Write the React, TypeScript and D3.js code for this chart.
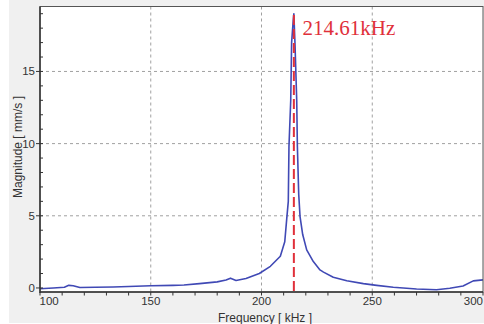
import React from "react";
import * as d3 from "d3";

const freqs = [100, 106, 111, 113, 115, 118, 125, 133, 140, 150, 160, 165, 172, 180, 184, 186, 188.5, 193, 199, 204, 208.5, 210.5, 211.4, 212.1, 212.4, 213.2, 213.6, 214.3, 214.61, 215.1, 215.9, 216.2, 216.8, 217.4, 218.6, 220.4, 223.4, 226.4, 228, 232.4, 238.5, 246, 252, 259.5, 270, 279, 285, 291, 295.6, 300];
const mags = [-0.05, 0.0, 0.05, 0.18, 0.15, 0.03, 0.05, 0.07, 0.1, 0.15, 0.18, 0.2, 0.3, 0.42, 0.55, 0.68, 0.52, 0.65, 1.0, 1.5, 2.2, 3.2, 4.8, 6.0, 9.8, 13.0, 17.0, 18.5, 19.0, 17.0, 13.0, 9.8, 6.5, 4.95, 3.7, 2.64, 1.83, 1.25, 1.1, 0.74, 0.5, 0.3, 0.18, 0.05, -0.07, -0.12, -0.02, 0.14, 0.49, 0.56];
const xTicks = [100, 150, 200, 250, 300];
const yTicks = [0, 5, 10, 15];
const peakFreq = 214.61;
const peakLabel = "214.61kHz";
const xTitle = "Frequency [ kHz ]";
const yTitle = "Magnitude [ mm/s ]";

export default function App() {
  const W = 484, H = 324;
  const L = 40, R = 483, T = 6.5, B = 292;
  const x = d3.scaleLinear().domain([100, 300]).range([L, R]);
  const y = d3.scaleLinear().domain([-0.28, 19.5]).range([B, T]);
  const data = freqs.map((f, i) => [f, mags[i]] as [number, number]);
  const line = d3.line<[number, number]>().x(d => x(d[0])).y(d => y(d[1]));
  const minorX = d3.range(100, 301, 10);
  const minorY = d3.range(0, 20, 1);
  const font = "'Liberation Sans', Arial, sans-serif";
  return (
    <svg width={W} height={H} style={{ position: "absolute", left: 0, top: 0 }}>
      <rect x={0} y={0} width={W} height={H} fill="#ffffff" />
      <rect x={9} y={0} width={W - 9} height={323} fill="#f0f0f0" />
      <rect x={L} y={T} width={R - L} height={B - T} fill="#ffffff" />
      {xTicks.slice(1, -1).map(t => (
        <line key={"gx" + t} x1={x(t)} x2={x(t)} y1={T} y2={B} stroke="#a0a0a0" strokeDasharray="3,3" />
      ))}
      {yTicks.slice(1).map(t => (
        <line key={"gy" + t} x1={L} x2={R} y1={y(t)} y2={y(t)} stroke="#a0a0a0" strokeDasharray="3,3" />
      ))}
      <path d={line(data) || ""} fill="none" stroke="#4049b5" strokeWidth={1.6} strokeLinejoin="round" />
      <line x1={x(peakFreq)} x2={x(peakFreq)} y1={15} y2={B} stroke="#e0303a" strokeWidth={2} strokeDasharray="10,4" />
      <text x={302.5} y={34.5} fill="#e0303a" fontFamily="'Liberation Serif', 'Times New Roman', serif" fontSize={21}>{peakLabel}</text>
      <rect x={L} y={T} width={R - L} height={B - T} fill="none" stroke="#555" strokeWidth={1} />
      <line x1={L} x2={L} y1={T} y2={B + 1} stroke="#333" strokeWidth={1.5} />
      <line x1={L} x2={R} y1={B} y2={B} stroke="#333" strokeWidth={1.5} />
      {minorX.map(t => (
        <line key={"mx" + t} x1={x(t)} x2={x(t)} y1={B} y2={B + 3.5} stroke="#333" strokeWidth={1} />
      ))}
      {minorY.map(t => (
        <line key={"my" + t} x1={L} x2={L + 3} y1={y(t)} y2={y(t)} stroke="#333" strokeWidth={1} />
      ))}
      {yTicks.map(t => (
        <g key={"yt" + t}>
          <line x1={L - 4} x2={L} y1={y(t)} y2={y(t)} stroke="#333" strokeWidth={1} />
          <text x={L - 5} y={y(t)} dy="0.35em" textAnchor="end" fontFamily={font} fontSize={11.5} fill="#333">{t}</text>
        </g>
      ))}
      {xTicks.map((t, i) => (
        <text key={"xt" + t} x={i === 0 ? x(t) - 0.5 : x(t)} y={305}
          textAnchor={i === 0 ? "start" : i === xTicks.length - 1 ? "end" : "middle"}
          fontFamily={font} fontSize={11.5} fill="#333">{t}</text>
      ))}
      <text x={265} y={321.5} textAnchor="middle" fontFamily={font} fontSize={12} fill="#333">{xTitle}</text>
      <text transform="translate(22,147) rotate(-90)" textAnchor="middle" fontFamily={font} fontSize={12} fill="#333">{yTitle}</text>
    </svg>
  );
}
